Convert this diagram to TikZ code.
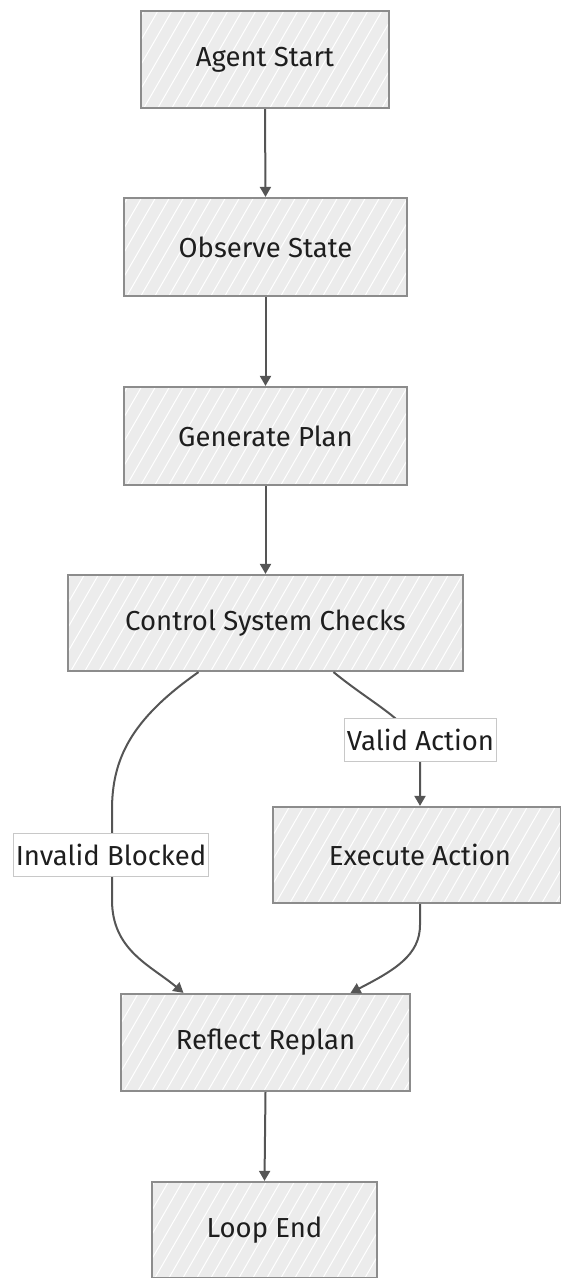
\documentclass[tikz,border=0pt]{standalone}
\usepackage{fontspec}
\setmainfont{Fira Sans}
\usetikzlibrary{arrows.meta,calc}
\definecolor{boxfill}{HTML}{ECECEC}
\definecolor{boxline}{HTML}{8C8C8C}
\definecolor{edgecol}{HTML}{555555}
\definecolor{txt}{HTML}{1E1E1E}
\definecolor{lblline}{HTML}{C8C8C8}
\tikzset{
  flowbox/.style={draw=boxline, line width=2.2pt, fill=boxfill, inner sep=0pt,
    text=txt, font=\fontsize{27.5}{32}\selectfont,
    path picture={
      \foreach \i in {-40,...,40}{
        \draw[white, line width=1pt]
          ($(path picture bounding box.south west)+(\i*14pt,-5pt)$) -- ++(75pt,130pt);
      }
    }},
  edge/.style={draw=edgecol, line width=2pt},
  arr/.style={edge, -{Triangle[width=11pt,length=10pt]}},
  elabel/.style={draw=lblline, line width=1pt, fill=white, text=txt,
    font=\fontsize{27.5}{32}\selectfont, inner xsep=2pt, inner ysep=0pt,
    minimum height=43pt}
}
\begin{document}
\begin{tikzpicture}[x=1pt,y=-1pt]
\useasboundingbox (0,0) rectangle (560,1278);
\node[flowbox, minimum width=248pt, minimum height=97pt] (start) at (265,59.5) {Agent Start};
\node[flowbox, minimum width=283pt, minimum height=98pt] (obs) at (265.5,247) {Observe State};
\node[flowbox, minimum width=283pt, minimum height=98pt] (plan) at (265.5,436) {Generate Plan};
\node[flowbox, minimum width=395pt, minimum height=96pt] (ctrl) at (265.5,623) {Control System Checks};
\node[flowbox, minimum width=288pt, minimum height=96pt] (exec) at (417,855) {\hspace*{6pt}Execute Action};
\node[flowbox, minimum width=289pt, minimum height=97pt] (refl) at (265.5,1042.5) {Reflect Replan};
\node[flowbox, minimum width=225pt, minimum height=96pt] (lend) at (264.5,1230) {Loop End};

\draw[arr] (start.south) -- (obs.north);
\draw[arr] (obs.south) -- (plan.north);
\draw[arr] (plan.south) -- (ctrl.north);

\coordinate (invA) at ([xshift=-67pt]ctrl.south);
\coordinate (invB) at ([xshift=-82pt]refl.north);
\draw[arr] (invA) .. controls (130,720) and (112,760) .. (112,810)
  -- (112,900) .. controls (112,950) and (150,965) .. (invB);
\node[elabel] (linv) at (111,854.5) {Invalid Blocked};

\coordinate (valA) at ([xshift=68pt]ctrl.south);
\coordinate (valB) at ([xshift=3pt]exec.north);
\draw[arr] (valA) .. controls (380,710) and (420,725) .. (420,762) -- (valB);
\node[elabel] (lval) at (420.5,740) {Valid Action};

\coordinate (exB) at ([xshift=85pt]refl.north);
\draw[arr] ([xshift=3pt]exec.south) -- (420,925) .. controls (420,955) and (395,970) .. (exB);

\draw[arr] (refl.south) -- (lend.north);
\end{tikzpicture}
\end{document}
